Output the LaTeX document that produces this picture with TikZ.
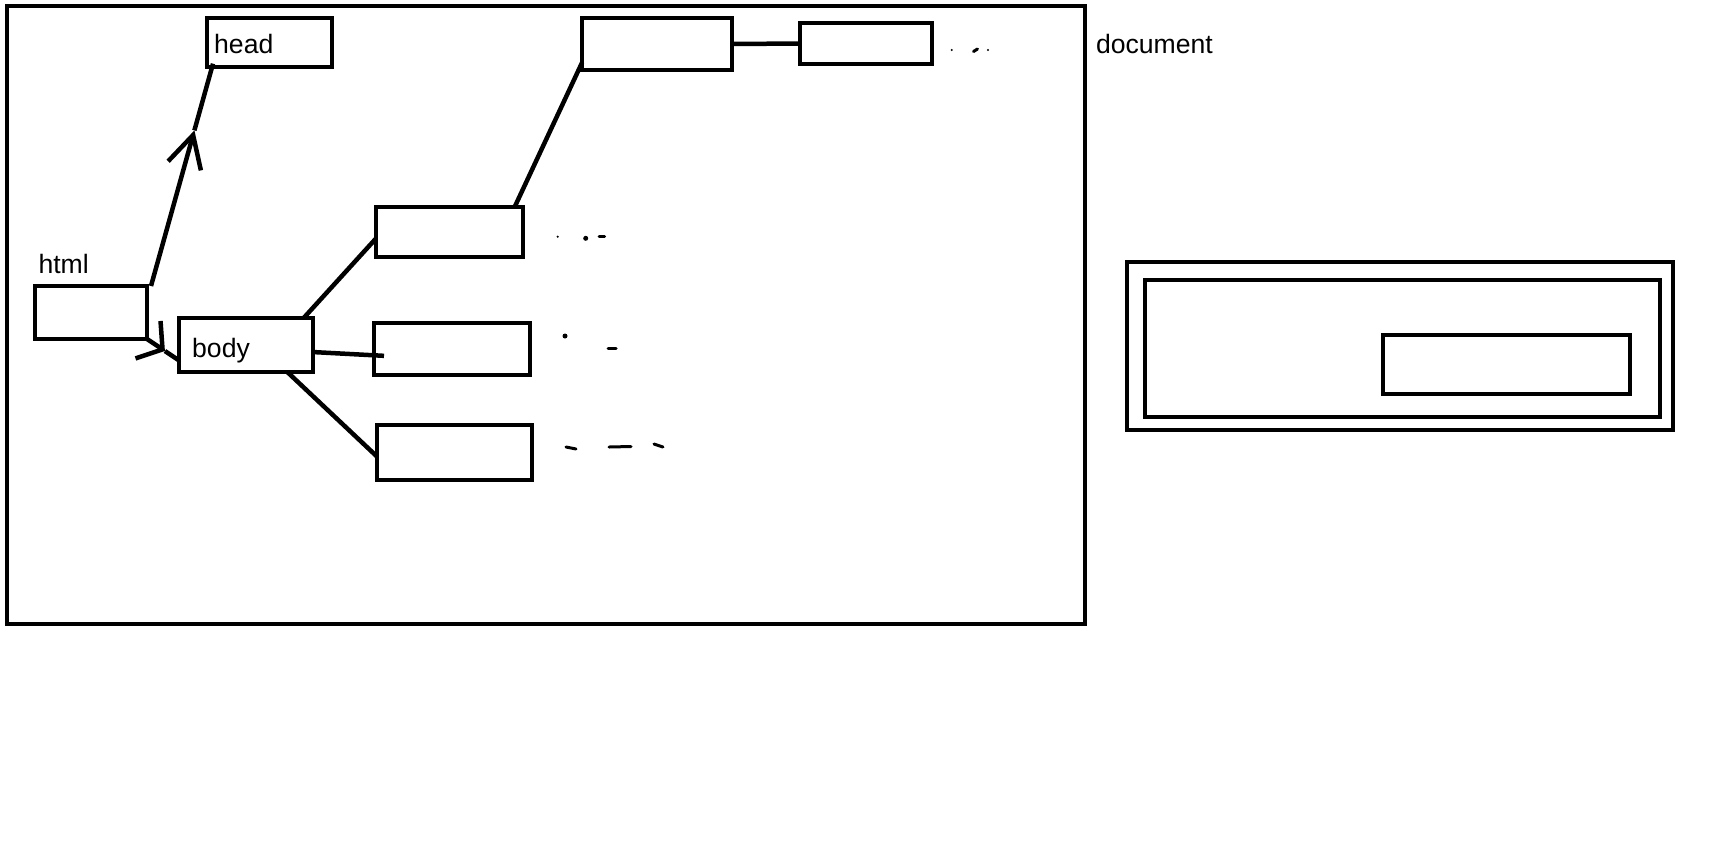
\documentclass[tikz,border=0pt]{standalone}
\usepackage{fontspec}
\setmainfont{Liberation Sans}
\usetikzlibrary{arrows.meta,positioning,calc}

\begin{document}
\begin{tikzpicture}[x=0.5pt, y=-0.5pt
    , every node/.style={inner sep=0pt, outer sep=0pt}
    , box/.style 2 args={draw, line width=2pt, minimum width=#1, minimum height=#2}
    , tag/.style={anchor=base west, font=\fontsize{13.3}{16}\selectfont}
    , link/.style={line width=2.25pt}
    , scribble/.style={line width=1.5pt, line cap=round}
]
    \useasboundingbox (0,0) rectangle (1732,852);

    % Document frame.
    \node[box={539pt}{309pt}] (doc) at (546,315) {};
    \node[tag] (doclabel) at ([xshift=5.5pt,yshift=-23.5pt]doc.north east) {document};

    % Tree.
    \node[box={56pt}{26.5pt}] (html) at (91,312.5) {};
    \node[tag] (htmllabel) at ([xshift=1.75pt,yshift=6.5pt]html.north west) {html};

    \node[box={62.5pt}{24.2pt}] (head) at (269.5,42.5) {};
    \node[tag] (headlabel) at ([xshift=3.6pt,yshift=-17.35pt]head.north west) {head};

    \node[box={66.75pt}{27pt}] (body) at (245.75,345) {};
    \node[tag] (bodylabel) at ([xshift=6.6pt,yshift=-19.5pt]body.north west) {body};

    \node[box={73.5pt}{25pt}] (child1) at (449.5,232) {};
    \node[box={78pt}{26pt}] (child2) at (452,349) {};
    \node[box={77.5pt}{27.5pt}] (child3) at (454.5,452.5) {};
    \node[box={75pt}{26pt}] (grand1) at (657,44) {};
    \node[box={66pt}{20.5pt}] (grand2) at (866,43.5) {};

    % Nested boxes.
    \node[box={273pt}{84pt}] (outer) at (1400,346) {};
    \node[box={257.5pt}{68.5pt}] (middle) at (1402.5,348.5) {};
    \node[box={123.5pt}{29.25pt}] (inner) at (1506.5,364.5) {};

    % Connectors.
    \coordinate (upfoot) at ([xshift=2pt]html.north east);
    \coordinate (uptop) at ([xshift=3pt,yshift=1.5pt]head.south west);
    \path (upfoot) -- (uptop) coordinate[pos=0.7] (uptip);
    \draw[link, -{Straight Barb[length=16pt,width=17pt]}] (upfoot) -- (uptip);
    \draw[link] (uptip) -- (uptop);

    \path (html.south east) -- (body.193) coordinate[pos=0.56] (downtip);
    \draw[link, -{Straight Barb[length=8.75pt,width=22.5pt]}] (html.south east) -- (downtip);
    \draw[link] (downtip) -- (body.193);

    \draw[link] (body.25) -- (child1.185);
    \draw[link] (body.-6) -- ([xshift=5pt]child2.185);
    \draw[link] (body.-33) -- (child3.183);
    \draw[link] (child1.21) -- (grand1.194);
    \draw[link] (grand1.east) -- (grand2.west);

    % Trailing marks.
    \fill (557.7,236.7) circle (0.6pt);
    \fill (585.7,238.3) circle (1.25pt);
    \draw[scribble] (599,236.3) -- (604.7,236.3);
    \fill (565,336) circle (1.25pt);
    \draw[scribble] (608,348) -- (616,348);
    \draw[scribble] (566,447) -- (576,449);
    \draw[scribble] (609,447) -- (631,446.5);
    \draw[scribble] (654,444) -- (663,447);
    \fill (951.7,50) circle (0.6pt);
    \draw[scribble] (973.5,51.5) -- (977.5,49);
    \fill (988,50) circle (0.6pt);

\end{tikzpicture}
\end{document}
